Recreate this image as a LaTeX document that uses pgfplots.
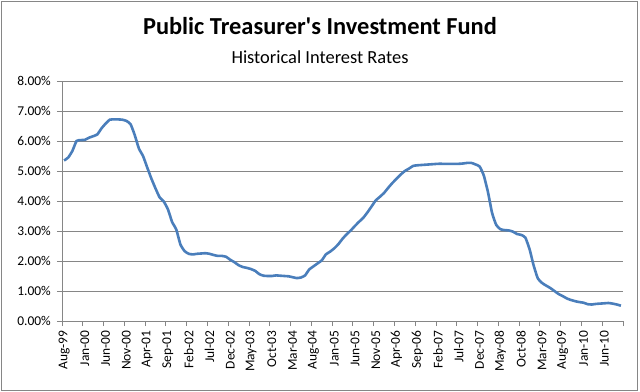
\documentclass[border=0pt]{standalone}
\usepackage{pgfplots}
\pgfplotsset{compat=1.18}
\usepackage{fontspec}
\setmainfont{Carlito}
\definecolor{linec}{RGB}{74,126,187}
\definecolor{gridc}{RGB}{134,134,134}
\pgfplotstableread{
i v
0 5.35
1 5.45
2 5.67
3 6.00
4 6.03
5 6.04
6 6.11
7 6.16
8 6.22
9 6.42
10 6.58
11 6.71
12 6.72
13 6.72
14 6.71
15 6.67
16 6.56
17 6.20
18 5.75
19 5.50
20 5.12
21 4.75
22 4.42
23 4.12
24 3.98
25 3.72
26 3.30
27 3.05
28 2.55
29 2.33
30 2.24
31 2.22
32 2.24
33 2.25
34 2.26
35 2.24
36 2.20
37 2.17
38 2.17
39 2.14
40 2.04
41 1.96
42 1.86
43 1.80
44 1.77
45 1.73
46 1.67
47 1.56
48 1.51
49 1.50
50 1.50
51 1.52
52 1.51
53 1.50
54 1.49
55 1.46
56 1.43
57 1.45
58 1.52
59 1.72
60 1.82
61 1.92
62 2.02
63 2.22
64 2.31
65 2.42
66 2.56
67 2.74
68 2.89
69 3.02
70 3.17
71 3.31
72 3.44
73 3.62
74 3.82
75 4.02
76 4.14
77 4.27
78 4.44
79 4.60
80 4.74
81 4.88
82 5.00
83 5.08
84 5.17
85 5.19
86 5.20
87 5.21
88 5.22
89 5.23
90 5.24
91 5.24
92 5.24
93 5.24
94 5.24
95 5.24
96 5.25
97 5.27
98 5.27
99 5.22
100 5.15
101 4.85
102 4.30
103 3.60
104 3.20
105 3.06
106 3.03
107 3.02
108 2.98
109 2.90
110 2.87
111 2.78
112 2.40
113 1.85
114 1.42
115 1.27
116 1.18
117 1.10
118 1.00
119 0.90
120 0.83
121 0.75
122 0.70
123 0.66
124 0.63
125 0.61
126 0.56
127 0.55
128 0.57
129 0.58
130 0.59
131 0.60
132 0.58
133 0.55
134 0.51
}\ratedata
\begin{document}
\begin{tikzpicture}
\useasboundingbox (0bp,0bp) rectangle (640bp,392bp);
\draw[gridc, line width=0.8bp] (1bp,2bp) rectangle (637bp,391bp);
\node[font=\fontsize{24.5}{28}\selectfont\bfseries, anchor=base, inner sep=0pt] at (320bp,357bp) {Public Treasurer\textquotesingle s Investment Fund};
\node[font=\fontsize{18.5}{22}\selectfont, anchor=base, inner sep=0pt] at (320bp,328bp) {Historical Interest Rates};
\begin{axis}[
  at={(62bp,71bp)}, anchor=south west,
  scale only axis, width=561bp, height=240bp,
  xmin=-0.5, xmax=134.5, ymin=0, ymax=8,
  axis x line*=bottom, axis y line*=left,
  axis line style={draw=gridc, line width=0.8bp, -},
  ymajorgrids, grid style={draw=gridc, line width=0.8bp},
  ytick={0,1,...,8},
  /pgf/number format/assume math mode=true,
  yticklabel={\pgfmathprintnumber[fixed,fixed zerofill,precision=2]{\tick}\%},
  xtick={0,5,...,130},
  xticklabels={Aug-99,Jan-00,Jun-00,Nov-00,Apr-01,Sep-01,Feb-02,Jul-02,Dec-02,May-03,Oct-03,Mar-04,Aug-04,Jan-05,Jun-05,Nov-05,Apr-06,Sep-06,Feb-07,Jul-07,Dec-07,May-08,Oct-08,Mar-09,Aug-09,Jan-10,Jun-10},
  minor xtick={-0.5,4.5,...,134.5},
  tick align=outside,
  major tick length=5bp, minor tick length=5bp,
  major x tick style={draw=none},
  minor x tick style={draw=gridc, line width=0.8bp},
  ytick style={draw=gridc, line width=0.8bp},
  tick label style={font=\fontsize{13.5}{15}\selectfont, text=black},
  xticklabel style={rotate=90, anchor=east, inner sep=4.5bp},
  yticklabel style={inner sep=2bp, xshift=-4bp},
  clip=false,
]
\addplot[linec, line width=2.6bp, smooth, tension=0.3] table[x=i, y=v] {\ratedata};
\end{axis}
\end{tikzpicture}
\end{document}
